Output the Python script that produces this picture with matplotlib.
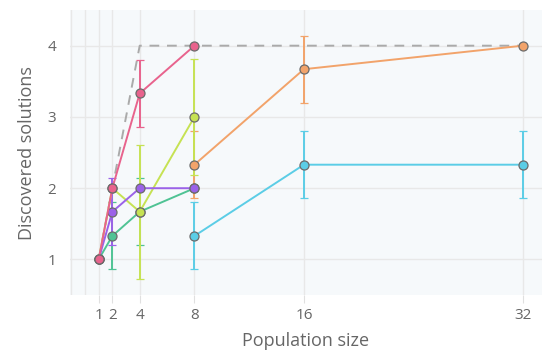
import numpy as np
import matplotlib.pyplot as plt

plt.rcParams['font.family'] = ['Open Sans', 'DejaVu Sans']

# population sizes and mean discovered solutions (+- error)
x_small = [1, 2, 4, 8]
x_large = [8, 16, 32]

pink_y = [1, 2, 3.33, 4]
pink_err = [0, 0, 0.47, 0]
lime_y = [1, 2, 1.67, 3]
lime_err = [0, 0, 0.94, 0.82]
purple_y = [1, 1.67, 2, 2]
purple_err = [0, 0.47, 0, 0]
green_y = [1, 1.33, 1.67, 2]
green_err = [0, 0.47, 0.47, 0]
orange_y = [2.33, 3.67, 4]
orange_err = [0.47, 0.47, 0]
cyan_y = [1.33, 2.33, 2.33]
cyan_err = [0.47, 0.47, 0.47]

best_x = [1, 2, 4, 32]
best_y = [1, 2, 4, 4]

xticks = [1, 2, 4, 8, 16, 32]
yticks = [1, 2, 3, 4]

fig = plt.figure(figsize=(5.42, 3.59), dpi=100)
ax = fig.add_axes([0.129, 0.178, 0.871, 0.794])
ax.set_facecolor('#f6f9fb')

ax.plot(best_x, best_y, color='#aaaaaa', ls=(0, (5, 4)), lw=1.4, zorder=2)

series = [
    (x_large, cyan_y, cyan_err, '#5bcde6'),
    (x_large, orange_y, orange_err, '#f2a36a'),
    (x_small, green_y, green_err, '#4fc394'),
    (x_small, lime_y, lime_err, '#c6e253'),
    (x_small, purple_y, purple_err, '#9b62e8'),
    (x_small, pink_y, pink_err, '#e8638d'),
]
for xs, ys, es, c in series:
    es = np.array(es, dtype=float)
    ax.errorbar(xs, ys, yerr=np.where(es > 0, es, np.nan), color=c, lw=1.4,
                elinewidth=1.4, capsize=3, capthick=1.4, marker='o', ms=6.5,
                mfc=c, mec='#6b6b6b', mew=0.9, zorder=3)

ax.set_xlim(-1.1, 33.4)
ax.set_ylim(0.5, 4.5)
ax.set_xticks(xticks)
ax.set_yticks(yticks)
ax.set_xticks([-1, 0], minor=True)
ax.grid(True, which='both', color='#e8e8e8', lw=1)
ax.set_axisbelow(True)
for s in ax.spines.values():
    s.set_visible(False)
ax.tick_params(axis='both', which='major', colors='#e0e0e0', labelcolor='#666666',
               labelsize=11, length=6)
ax.tick_params(axis='x', which='minor', length=0)
ax.tick_params(axis='y', length=0, pad=10)
ax.set_xlabel('Population size', fontsize=13, color='#666666', labelpad=6)
ax.set_ylabel('Discovered solutions', fontsize=13, color='#666666', labelpad=8)

fig.savefig('out.png', dpi=100)
